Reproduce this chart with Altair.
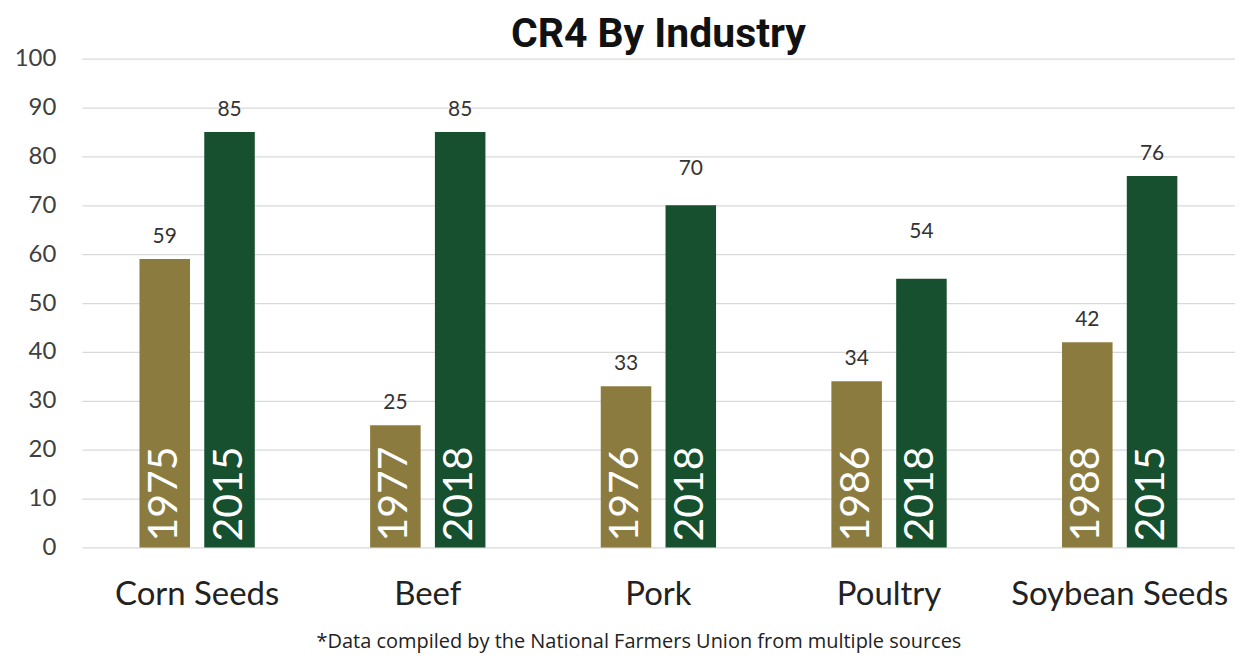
import altair as alt
import pandas as pd

industries = ["Corn Seeds", "Beef", "Pork", "Poultry", "Soybean Seeds"]
early_years = ["1975", "1977", "1976", "1986", "1988"]
late_years = ["2015", "2018", "2018", "2018", "2015"]
early_values = [59, 25, 33, 34, 42]
late_values = [85, 85, 70, 55, 76]
early_labels = ["59", "25", "33", "34", "42"]
late_labels = ["85", "85", "70", "54", "76"]
early_label_y = [63.5, 29.5, 37.5, 38.5, 46.5]
late_label_y = [89.5, 89.5, 77.5, 64.5, 80.5]

rows = []
for i, ind in enumerate(industries):
    rows.append(dict(industry=ind, period="early", year=early_years[i],
                     value=early_values[i], label=early_labels[i], label_y=early_label_y[i], zero=0))
    rows.append(dict(industry=ind, period="late", year=late_years[i],
                     value=late_values[i], label=late_labels[i], label_y=late_label_y[i], zero=0))
df = pd.DataFrame(rows)

W = 1156
x_enc = alt.X("industry:N", sort=industries,
              scale=alt.Scale(paddingInner=0.5, paddingOuter=0.25),
              axis=alt.Axis(labelAngle=0, labelFontSize=33, labelColor="#222222",
                            labelFont="Lato", ticks=False, domain=False, labelPadding=31,
                            labelLimit=0,
                            title="*Data compiled by the National Farmers Union from multiple sources",
                            titleFont="Open Sans", titleFontSize=20, titleFontWeight="normal",
                            titleColor="#222222", titlePadding=20, titleX=W / 2 - 20))
xoff = alt.XOffset("period:N", sort=["early", "late"], scale=alt.Scale(paddingInner=0.22))
color = alt.Color("period:N", scale=alt.Scale(domain=["early", "late"], range=["#8C7B3F", "#17502F"]),
                  legend=None)

base = alt.Chart(df)

bars = base.mark_bar().encode(
    x=x_enc,
    xOffset=xoff,
    y=alt.Y("value:Q", scale=alt.Scale(domain=[0, 100], nice=False),
            axis=alt.Axis(values=list(range(0, 101, 10)), labelFontSize=24, labelColor="#404040",
                          labelFont="Lato", ticks=False, domain=False, labelPadding=26,
                          gridColor="#d9d9d9", gridWidth=1.2, title=None)),
    color=color,
)

value_text = base.mark_text(fontSize=21, color="#333333", font="Lato", baseline="middle").encode(
    x=alt.X("industry:N", sort=industries),
    xOffset=xoff,
    y=alt.Y("label_y:Q"),
    text="label:N",
)

year_text = base.mark_text(fontSize=41, color="white", font="Lato", angle=270,
                           align="left", baseline="middle", dx=6).encode(
    x=alt.X("industry:N", sort=industries),
    xOffset=xoff,
    y=alt.Y("zero:Q"),
    text="year:N",
)

chart = alt.layer(bars, value_text, year_text).properties(
    width=W, height=490,
    title=alt.TitleParams("CR4 By Industry", fontSize=41, fontWeight="bold", font="Roboto",
                          color="#111111", anchor="middle", offset=0, dy=9),
    autosize=alt.AutoSizeParams(type="none"),
    padding={"left": 74, "top": 50, "right": 0, "bottom": 106},
).configure_view(stroke=None)

chart.save("out.html", embed_options={"renderer": "svg", "actions": False})
